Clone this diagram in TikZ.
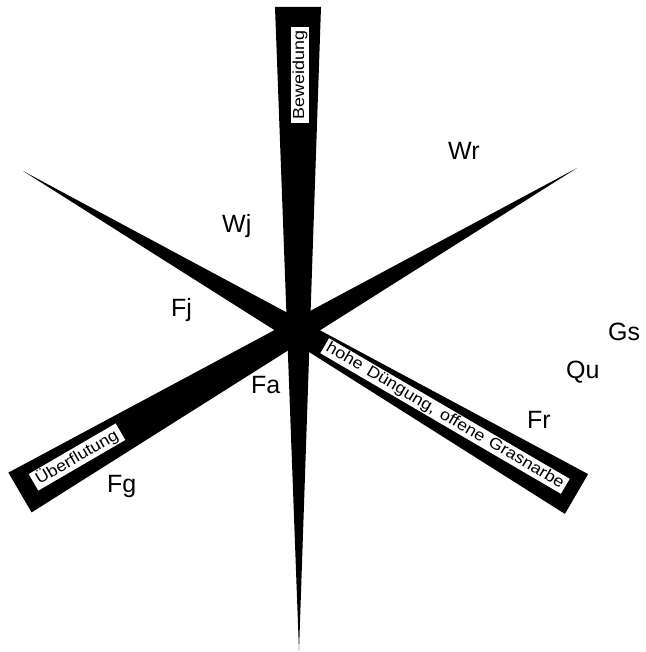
\documentclass[tikz,border=0pt]{standalone}
\usepackage{fontspec}
\setmainfont{Liberation Sans}
\newfontfamily\tagfont[FakeStretch=1.12,WordSpace=1.4]{Liberation Sans}
\begin{document}
\begin{tikzpicture}[x=1pt,y=-1pt,
  big/.style={anchor=base west, inner sep=0pt, font=\fontsize{25}{30}\selectfont},
  tag/.style={fill=white, inner xsep=4pt, inner ysep=1.2pt, font=\tagfont\fontsize{16}{18}\selectfont}]
\useasboundingbox (0,0) rectangle (645,652);
% wedge 1: upper-left tip to lower-right wide end (hohe Duengung)
\coordinate (t1) at (23,171);
\coordinate (e1a) at (588.1,474.1);
\coordinate (e1b) at (564.9,513.9);
% wedge 2: upper-right tip to lower-left wide end (Ueberflutung)
\coordinate (t2) at (577,168);
\coordinate (e2a) at (8.4,472.6);
\coordinate (e2b) at (31.6,512.4);
% wedge 3: wide top to bottom tip (Beweidung)
\coordinate (t3) at (299,651);
\coordinate (e3a) at (275,7);
\coordinate (e3b) at (321,7);
\fill[black] (t1) -- (e1a) -- (e1b) -- cycle;
\fill[black] (t2) -- (e2a) -- (e2b) -- cycle;
\fill[black] (t3) -- (e3a) -- (e3b) -- cycle;
% labels in the bands
\node[tag, rotate=90] (bew) at (300,75) {Beweidung};
\node[tag, rotate=-30.3, inner xsep=3pt] (dung) at (445,416) {hohe Düngung, offene Grasnarbe};
\node[tag, rotate=30.2] (ueb) at (77,457) {Überflutung};
% community labels
\node[big] (wr) at (448,160) {Wr};
\node[big] (wj) at (222,232) {Wj};
\node[big] (fj) at (171,316) {Fj};
\node[big] (gs) at (608,340) {Gs};
\node[big] (qu) at (566,378) {Qu};
\node[big] (fr) at (527,428) {Fr};
\node[big] (fa) at (251,393) {Fa};
\node[big] (fg) at (107,492) {Fg};
\end{tikzpicture}
\end{document}
